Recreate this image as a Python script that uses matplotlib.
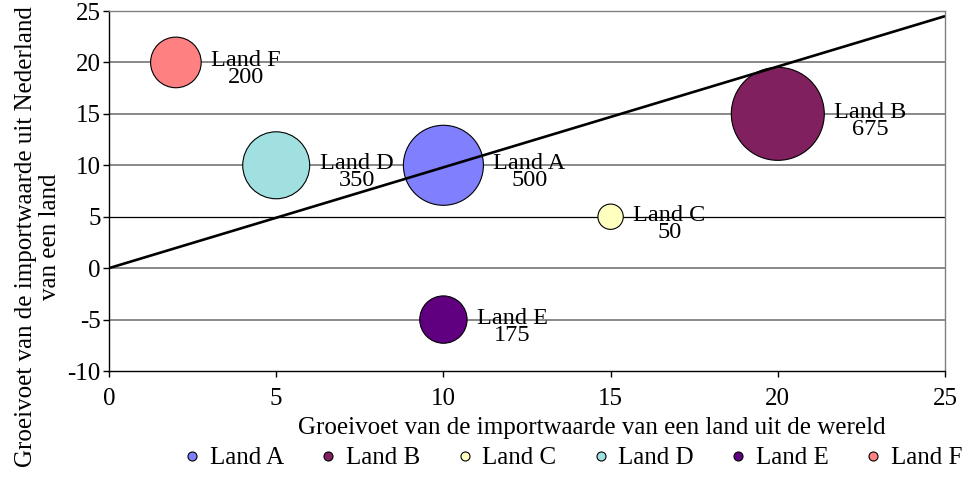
import matplotlib
matplotlib.use("Agg")
import matplotlib.pyplot as plt
from matplotlib.lines import Line2D
import numpy as np

plt.rcParams['font.family'] = ['Liberation Serif', 'DejaVu Serif']
plt.rcParams['axes.unicode_minus'] = False

countries = ["Land A", "Land B", "Land C", "Land D", "Land E", "Land F"]
x_growth_world = [10, 20, 15, 5, 10, 2]
y_growth_nl = [10, 15, 5, 10, -5, 20]
bubble_values = [500, 675, 50, 350, 175, 200]
colors = ["#8080FF", "#80205F", "#FFFFC0", "#A0E0E0", "#600080", "#FF8080"]

line_x = [0, 25]
line_y = [0, 24.5]

xticks = [0, 5, 10, 15, 20, 25]
yticks = [-10, -5, 0, 5, 10, 15, 20, 25]

DPI = 100
W, H = 964, 497
fig = plt.figure(figsize=(W / DPI, H / DPI), dpi=DPI)
ax = fig.add_axes([109/W, 1-371/H, (945-109)/W, (371-11)/H])

ax.set_xlim(0, 25)
ax.set_ylim(-10, 25)

for yt in yticks[1:]:
    if yt == 5:
        ax.axhline(yt, color="black", lw=0.9, zorder=1)
    else:
        ax.axhline(yt, color="#808080", lw=1.3, zorder=1)

size_k = 6.64
sizes = [v * size_k for v in bubble_values]
ax.scatter(x_growth_world, y_growth_nl, s=sizes, c=colors, edgecolors="black",
           linewidths=0.8, zorder=3)

ax.plot(line_x, line_y, color="black", lw=1.9, zorder=4, solid_capstyle='butt')

for name, xv, yv, s, v in zip(countries, x_growth_world, y_growth_nl, sizes, bubble_values):
    r_px = np.sqrt(s) * DPI / 72 / 2
    ax.annotate(f"{name}\n{v}", (xv, yv), xytext=(r_px + 10, -7),
                textcoords="offset pixels", ha="left", va="center",
                multialignment="center", linespacing=0.75, fontsize=17.5, zorder=5)

ax.set_xticks(xticks)
ax.set_yticks(yticks)
ax.tick_params(axis="both", labelsize=18, direction="out", length=4, width=1,
               colors="black")
ax.tick_params(axis="x", pad=8)
ax.tick_params(axis="y", pad=2)

ax.spines["left"].set_color("black")
ax.spines["bottom"].set_color("black")
ax.spines["top"].set_color("#808080")
ax.spines["right"].set_color("#808080")
for sp in ax.spines.values():
    sp.set_linewidth(1.0)

fig.text(592/W, 1-428/H, "Groeivoet van de importwaarde van een land uit de wereld",
         fontsize=18, ha="center", va="center")
fig.text(38/W, 1-237/H, "Groeivoet van de importwaarde uit Nederland\nvan een land",
         fontsize=18, ha="center", va="center", rotation=90,
         multialignment="center", linespacing=1.1)

handles = [Line2D([0], [0], marker="o", linestyle="none", markerfacecolor=c,
                  markeredgecolor="black", markeredgewidth=0.8, markersize=6.5)
           for c in colors]
fig.legend(handles, countries, loc="center", bbox_to_anchor=(571/W, 1-458/H),
           ncol=6, frameon=False, fontsize=18, handletextpad=0.2,
           columnspacing=1.28, handlelength=1.0)

fig.savefig("out.png", dpi=DPI)
